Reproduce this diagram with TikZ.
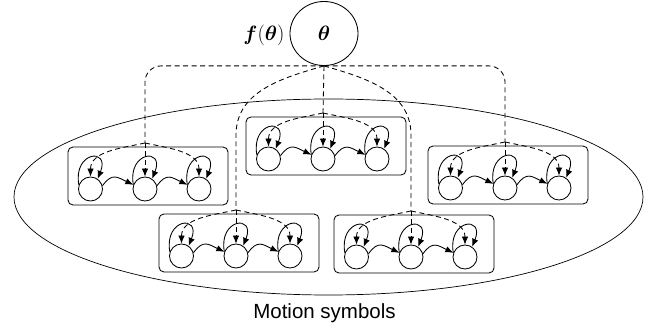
\documentclass[tikz,border=0pt]{standalone}
\usepackage{bm}
\usepackage{fontspec}
\newfontfamily\labelfont{Liberation Sans}
\usetikzlibrary{arrows.meta,shapes.geometric}

\begin{document}
\begin{tikzpicture}[x=1pt,y=1pt,line width=0.85pt,
  state/.style={circle,draw,minimum size=24pt,inner sep=0pt},
  panel/.style={draw,rounded corners=5pt,minimum width=160pt,minimum height=58pt,inner sep=0pt},
  tip/.style={-{Latex[length=8pt,width=6.5pt]}},
  dashline/.style={dash pattern=on 5pt off 3.5pt},
  bigtext/.style={font=\fontsize{22}{24}\selectfont},
]
\useasboundingbox (0,0) rectangle (656,-331);

% pool of motion symbols
\node[ellipse,draw,line width=0.7pt,minimum width=629pt,minimum height=196pt,inner sep=0pt] (pool) at (328.5,-197) {};

% shared parameter
\node[ellipse,draw,minimum width=68pt,minimum height=64pt,inner sep=0pt,bigtext] (theta) at (324,-33.5) {$\bm{\theta}$};
\node[bigtext] (ftheta) at (264,-35) {$\bm{f}(\bm{\theta})$};

% five small HMMs, each in a rounded panel
\foreach \n/\x/\y in {L/68/147, C/246/117, R/428/146, BL/159/214, BR/334/215} {
  \node[panel] (\n-box) at (\x+80,-\y-29) {};
  \foreach \i/\dx in {1/22.5,2/77,3/131}
    \node[state] (\n-\i) at (\x+\dx,-\y-42) {};
  \coordinate (\n-hub) at (\x+77,-\y+4);
  % self transitions
  \foreach \i in {1,2,3}
    \draw[tip] (\n-\i.160) .. controls +(100:34) and +(68:34) .. (\n-\i.55);
  % left-to-right transitions
  \draw[tip] (\n-1.15) to[out=55,in=155,looseness=1.4] (\n-2.160);
  \draw[tip] (\n-2.15) to[out=55,in=155,looseness=1.4] (\n-3.160);
  % parameter fan-out inside the panel
  \draw[tip,dashline] (\n-hub) to[out=192,in=90] (\n-1.north);
  \draw[tip,dashline] (\n-hub) -- (\n-2.north);
  \draw[tip,dashline] (\n-hub) to[out=-12,in=90] (\n-3.north);
}

% parameter links from theta to every panel
\draw[dashline,rounded corners=16pt] (theta.south) -| (L-hub);
\draw[dashline,rounded corners=16pt] (theta.south) -| (R-hub);
\draw[dashline] (theta.south) -- (C-hub);
\coordinate (BL-bend) at (236,-135);
\coordinate (BR-bend) at (411,-135);
\draw[dashline] (theta.south) to[out=196,in=90] (BL-bend) -- (BL-hub);
\draw[dashline] (theta.south) to[out=-16,in=90] (BR-bend) -- (BR-hub);

\node[font=\labelfont\fontsize{20.5}{24}\selectfont,anchor=base] (caption) at (324.5,-318.5) {Motion symbols};
\end{tikzpicture}
\end{document}
